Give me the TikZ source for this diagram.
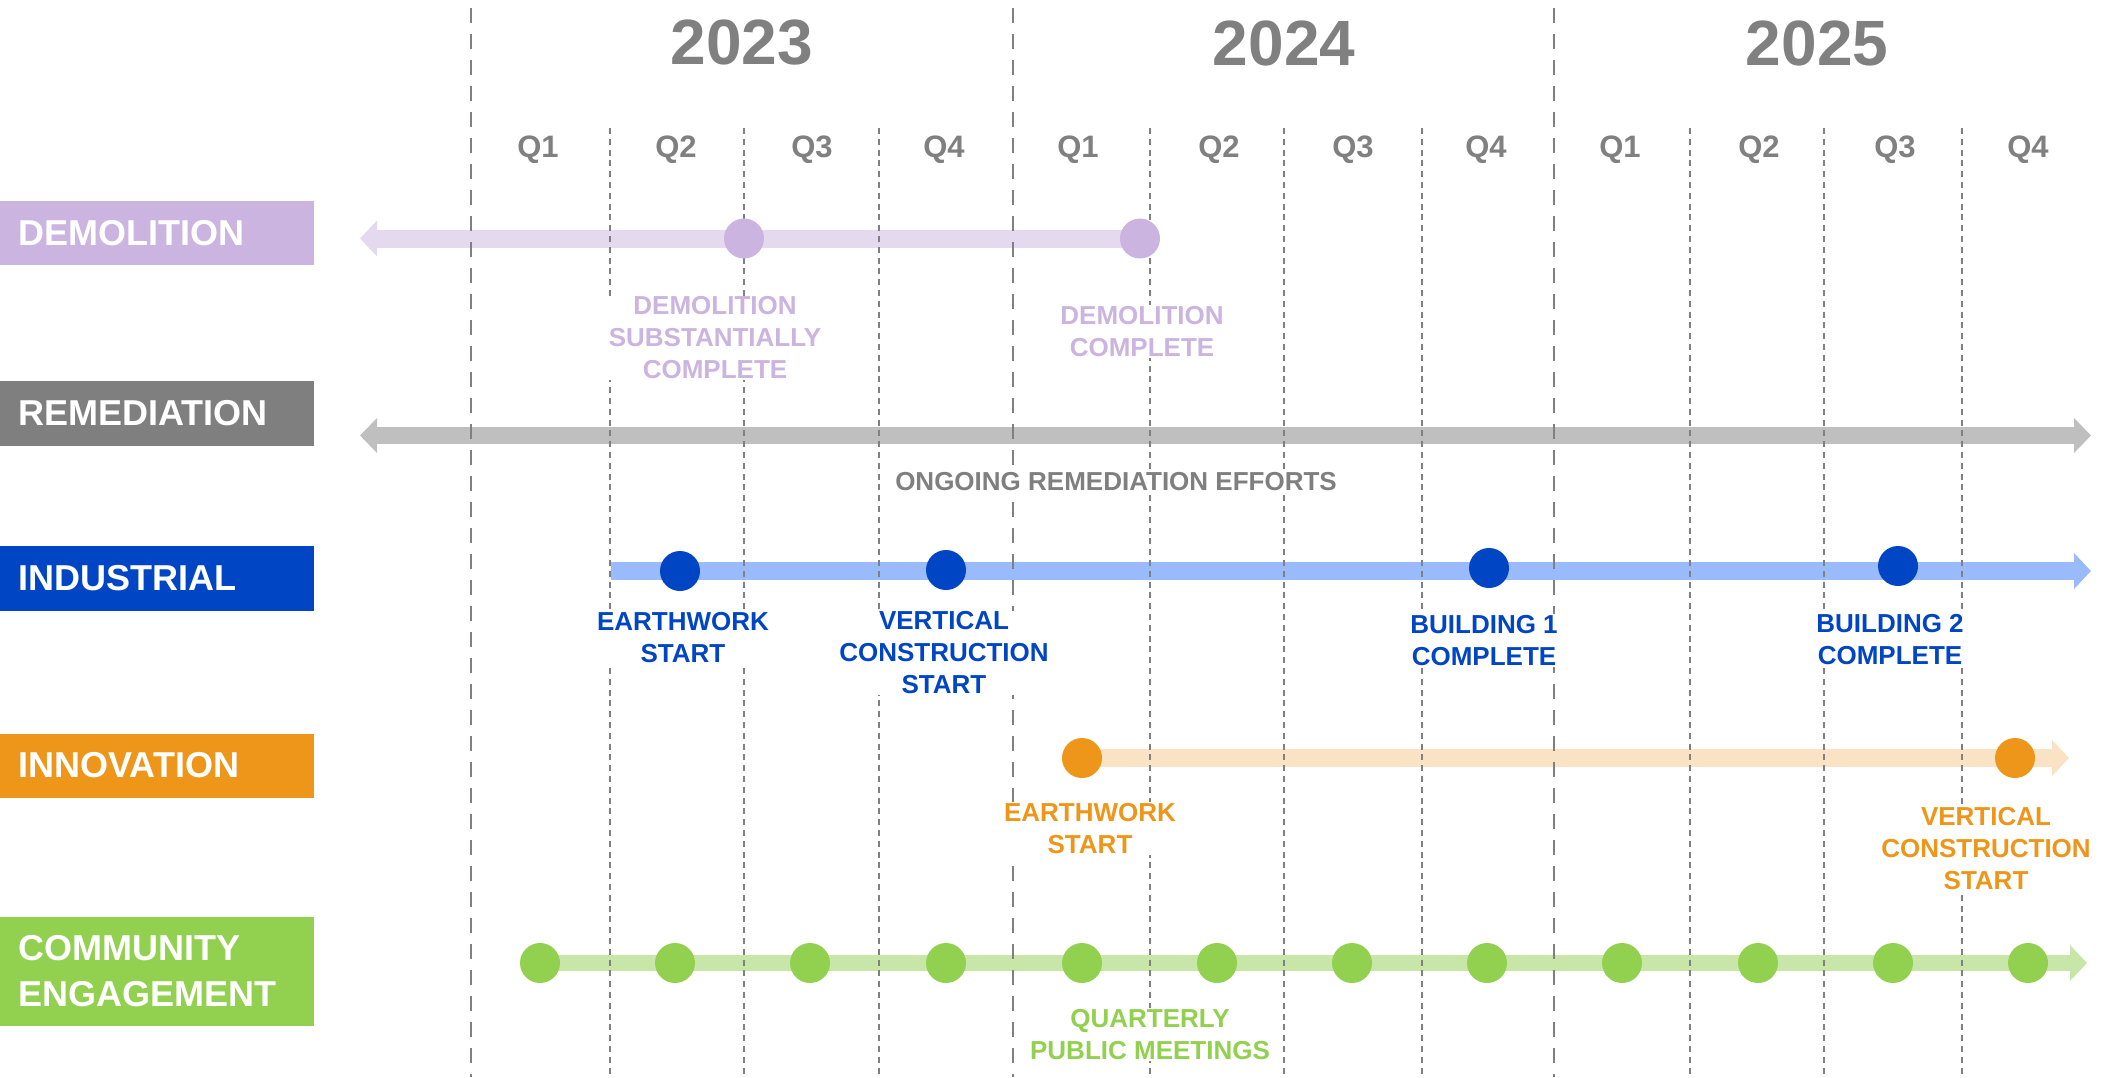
\documentclass[tikz,border=0pt]{standalone}
\usepackage{fontspec}
\setmainfont{Liberation Sans}
\usetikzlibrary{arrows.meta}
\pgfdeclarelayer{bars}
\pgfsetlayers{bars,main}
\definecolor{dem}{HTML}{CBB4E0}
\definecolor{demL}{HTML}{E5D9F0}
\definecolor{rem}{HTML}{7F7F7F}
\definecolor{remL}{HTML}{BFBFBF}
\definecolor{ind}{HTML}{0045C4}
\definecolor{indL}{HTML}{99BBFB}
\definecolor{inn}{HTML}{EE961A}
\definecolor{innL}{HTML}{FAE2C4}
\definecolor{com}{HTML}{92D050}
\definecolor{comL}{HTML}{C8E6A8}
\definecolor{axis}{HTML}{808080}
\begin{document}
\begin{tikzpicture}[x=0.5pt,y=-0.5pt,
  yearline/.style={draw=axis, line width=1.4pt, dash pattern=on 7.5pt off 5.5pt},
  qline/.style={draw=axis, line width=0.8pt, dash pattern=on 3pt off 2.4pt},
  yearlbl/.style={text=axis, font=\fontsize{32}{38}\selectfont\bfseries, inner sep=0pt},
  qlbl/.style={text=axis, font=\fontsize{15.5}{18}\selectfont\bfseries, inner sep=0pt},
  rowbox/.style={anchor=west, minimum height=#1, inner xsep=9pt, inner ysep=0pt,
    text width=139pt, align=left, text=white, font=\fontsize{18}{23}\selectfont\bfseries},
  bar/.style={line width=9pt, draw=#1, -{Triangle[length=8.5pt,width=17.5pt]}},
  dbar/.style={line width=8.5pt, draw=#1, {Triangle[length=8.5pt,width=17pt]}-{Triangle[length=8.5pt,width=17pt]}},
  ms/.style={circle, fill=#1, minimum size=20pt, inner sep=0pt},
  lbl/.style={text=#1, fill=white, align=center, font=\fontsize{13}{16}\selectfont\bfseries, inner sep=0.5pt}
]
\useasboundingbox (0,0) rectangle (2102,1077);

% grid lines
\foreach \x in {471,1013,1554} \draw[yearline] (\x,8) -- (\x,1077);
\foreach \x in {610,744,879,1150,1284,1422,1690,1824,1962} \draw[qline] (\x,128) -- (\x,1077);

% years
\node[yearlbl] (y23) at (742,43) {2023};
\node[yearlbl] (y24) at (1284,43) {2024};
\node[yearlbl] (y25) at (1817,43) {2025};

% quarters
\foreach \x/\q [count=\i] in {538/Q1,676/Q2,812/Q3,944/Q4,1078/Q1,1219/Q2,1353/Q3,1486/Q4,1620/Q1,1759/Q2,1895/Q3,2028/Q4}
  \node[qlbl] (q\i) at (\x,150) {\q};

% row boxes
\node[rowbox=32pt, fill=dem] (bdem) at (0,233) {DEMOLITION};
\node[rowbox=32.5pt, fill=rem] (brem) at (0,413.5) {REMEDIATION};
\node[rowbox=32.5pt, fill=ind] (bind) at (0,578.5) {INDUSTRIAL};
\node[rowbox=32pt, fill=inn] (binn) at (0,765.5) {INNOVATION};
\node[rowbox=54.5pt, fill=com] (bcom) at (0,971.5) {COMMUNITY\\ENGAGEMENT};

% free ends of bars
\coordinate (demtip) at (360,238.5);
\coordinate (remL) at (360,435.5);
\coordinate (remR) at (2091,435.5);
\coordinate (indS) at (611,571);
\coordinate (indtip) at (2091,571);
\coordinate (inntip) at (2069,758);
\coordinate (comtip) at (2087,963);

% milestones
\node[ms=dem] (d1) at (744,238.5) {};
\node[ms=dem] (d2) at (1140,238.5) {};
\node[ms=ind] (i1) at (680,571) {};
\node[ms=ind] (i2) at (946,570) {};
\node[ms=ind] (i3) at (1489,568) {};
\node[ms=ind] (i4) at (1898,566) {};
\node[ms=inn] (n1) at (1082,758) {};
\node[ms=inn] (n2) at (2015,758) {};
\foreach \x [count=\i] in {540,675,810,946,1082,1217,1352,1487,1622,1758,1893,2028}
  \node[ms=com] (c\i) at (\x,963) {};

% bars, behind the milestones
\begin{pgfonlayer}{bars}
\draw[bar=demL] (d2.center) -- (demtip);
\draw[dbar=remL] (remL) -- (remR);
\draw[bar=indL] (indS) -- (indtip);
\draw[bar=innL] (n1.center) -- (inntip);
\draw[bar=comL, line width=8pt] (c1.center) -- (comtip);
\end{pgfonlayer}

% labels
\node[lbl=dem] (ld1) at (715,338) {DEMOLITION\\SUBSTANTIALLY\\COMPLETE};
\node[lbl=dem] (ld2) at (1142,331.5) {DEMOLITION\\COMPLETE};
\node[lbl=rem] (lr) at (1116,482) {ONGOING REMEDIATION EFFORTS};
\node[lbl=ind] (li1) at (683,638) {EARTHWORK\\START};
\node[lbl=ind] (li2) at (944,653) {VERTICAL\\CONSTRUCTION\\START};
\node[lbl=ind] (li3) at (1484,640.5) {BUILDING 1\\COMPLETE};
\node[lbl=ind] (li4) at (1890,640) {BUILDING 2\\COMPLETE};
\node[lbl=inn] (ln1) at (1090,828.5) {EARTHWORK\\START};
\node[lbl=inn] (ln2) at (1986,848.5) {VERTICAL\\CONSTRUCTION\\START};
\node[lbl=com] (lc) at (1150,1034.5) {QUARTERLY\\PUBLIC MEETINGS};
\end{tikzpicture}
\end{document}
